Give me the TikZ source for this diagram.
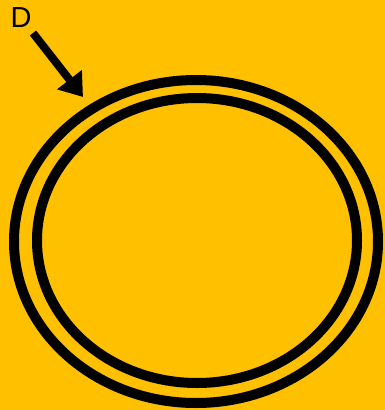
\documentclass[tikz,border=0pt]{standalone}
\usepackage{fontspec}
\setmainfont{Liberation Sans}
\usetikzlibrary{arrows.meta}
\definecolor{bg}{HTML}{FFC000}
\begin{document}
\begin{tikzpicture}[x=1pt,y=-1pt,
  ring/.style={draw=black,line width=10pt},
  pointer/.style={draw=black,line width=8pt,-{Triangle[length=22pt,width=30pt]}}]
\fill[bg] (0,0) rectangle (385,410);
\useasboundingbox (0,0) rectangle (385,410);
\draw[ring] (196,241.5) ellipse [x radius=182,y radius=161.5];
\draw[ring] (197,240.5) ellipse [x radius=160,y radius=142.5];
\node[font=\fontsize{29}{30}\selectfont,inner sep=0pt] (D) at (21,17.5) {D};
\coordinate (s) at (33,33);
\coordinate (t) at (83,97);
\draw[pointer] (s) -- (t);
\end{tikzpicture}
\end{document}
